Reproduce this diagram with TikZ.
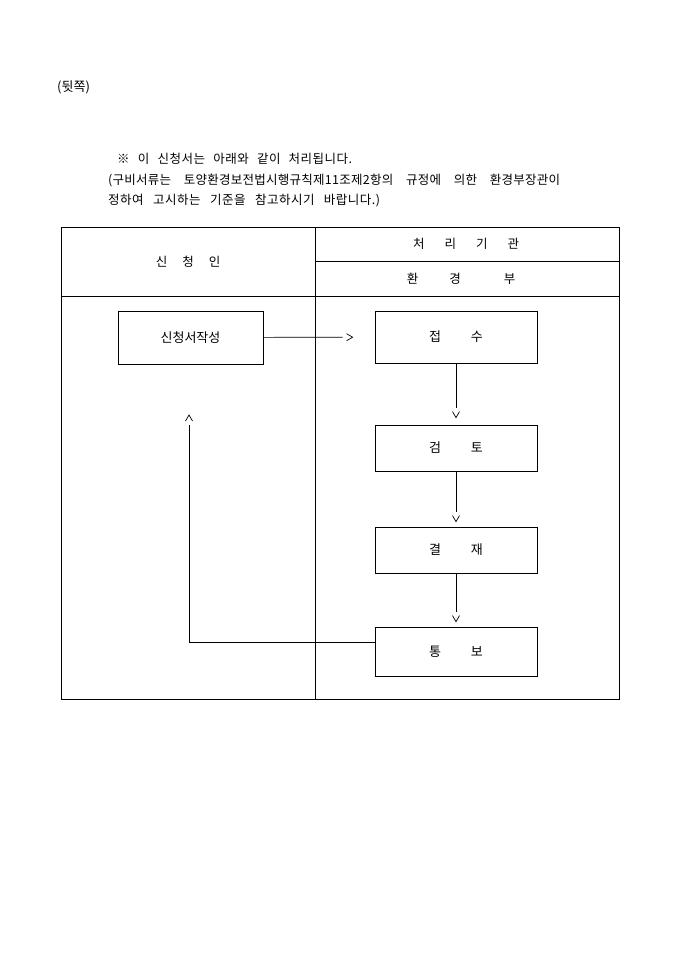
\documentclass[tikz,border=0pt]{standalone}
\usepackage{fontspec}
\setmainfont{Noto Sans CJK KR}
\usetikzlibrary{arrows.meta}
% open chevron standing a little off the end of the line
\pgfdeclarearrow{
  name = Gap Barb,
  setup code = {
    \pgfarrowssettipend{0pt}
    \pgfarrowssetlineend{-10pt}
    \pgfarrowssetbackend{-6pt}
    \pgfarrowsupperhullpoint{-6pt}{3.5pt}
    \pgfarrowsupperhullpoint{0pt}{0pt}
  },
  drawing code = {
    \pgfpathmoveto{\pgfpoint{-6pt}{3.5pt}}
    \pgfpathlineto{\pgfpointorigin}
    \pgfpathlineto{\pgfpoint{-6pt}{-3.5pt}}
    \pgfusepathqstroke
  }
}
\tikzstyle{note} = [anchor=west, inner sep=0pt, font=\fontsize{12.5}{14}\selectfont]
\tikzstyle{cell} = [inner sep=0pt, font=\fontsize{12.5}{14}\selectfont]
\tikzstyle{stepbox} = [rectangle, minimum width=162pt, minimum height=46pt, text centered, draw=black, line width=0.8pt, font=\fontsize{13}{14}\selectfont]
\tikzstyle{arrow} = [line width=0.7pt, -{Gap Barb}]

\begin{document}
\begin{tikzpicture}[x=1pt, y=-1pt]
   \useasboundingbox (0,0) rectangle (680,962);
   % notes above the table
   \node (back) [note, font=\fontsize{13}{14}\selectfont] at (57,87) {(뒷쪽)};
   \node (l1) [note] at (117,159) {\makebox[235pt][s]{\addfontfeature{LetterSpace=4}※ 이 신청서는 아래와 같이 처리됩니다.}};
   \node (l2) [note] at (108,181) {\makebox[452pt][s]{\addfontfeature{LetterSpace=2}(구비서류는 토양환경보전법시행규칙제11조제2항의 규정에 의한 환경부장관이}};
   \node (l3) [note] at (108,201) {\makebox[272pt][s]{\addfontfeature{LetterSpace=4}정하여 고시하는 기준을 참고하시기 바랍니다.)}};
   % table frame
   \draw [line width=0.8pt] (61,227) rectangle (619,699);
   \draw [line width=0.8pt] (315,227) -- (315,699);
   \draw [line width=0.8pt] (61,296) -- (619,296);
   \draw [line width=0.8pt] (315,261) -- (619,261);
   \node (who) [cell] at (188,262) {신\hspace{15pt}청\hspace{15pt}인};
   \node (org) [cell] at (466,244) {처\hspace{20pt}리\hspace{20pt}기\hspace{20pt}관};
   \node (dept) [cell] at (461,279) {환\hspace{31pt}경\hspace{43pt}부};
   % steps
   \node (sin) [stepbox, minimum width=145pt, minimum height=53pt] at (190.5,337.5) {신청서작성};
   \node (jeob) [stepbox, minimum height=52pt] at (456,337) {접\hspace{30pt}수};
   \node (geom) [stepbox] at (456,448) {검\hspace{30pt}토};
   \node (gyeol) [stepbox] at (456,550) {결\hspace{30pt}재};
   \node (tong) [stepbox, minimum height=49pt] at (456,651.5) {통\hspace{30pt}보};
   \coordinate (ret) at (189,415);
   \draw [arrow, shorten >=22pt] (sin) -- (jeob);
   \draw [arrow, shorten >=7pt] (jeob) -- (geom);
   \draw [arrow, shorten >=5pt] (geom) -- (gyeol);
   \draw [arrow, shorten >=5pt] (gyeol) -- (tong);
   \draw [arrow] ([yshift=9.5pt]tong.west) -| (ret);
\end{tikzpicture}
\end{document}
